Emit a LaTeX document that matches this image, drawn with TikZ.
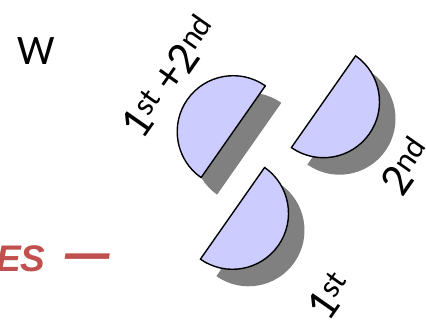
\documentclass[tikz,border=0pt]{standalone}
\usepackage{fontspec}
\setmainfont{Carlito}
\newfontfamily\esfont{Liberation Sans}
\usetikzlibrary{positioning}
\definecolor{halffill}{HTML}{CCCCFF}
\definecolor{halfshadow}{HTML}{808080}
\definecolor{esred}{HTML}{C0504D}

\begin{document}
\begin{tikzpicture}[x=1pt, y=1pt,
    half/.style={fill=halffill, draw=black, line width=1.4pt, line join=round},
    shade/.style={fill=halfshadow},
    lbl/.style={font=\fontsize{46}{46}\selectfont, rotate=55, anchor=base west, inner sep=0pt}]
    \useasboundingbox (0,0) rectangle (426,-321);
    \clip (0,0) rectangle (426,-321);

    % centres of the half discs
    \coordinate (both) at (233.2,-131.7);
    \coordinate (second) at (323.5,-101.7);
    \coordinate (first) at (232.5,-213.3);

    % shadows
    \foreach \c/\s/\e in {both/55/235, second/55/-125, first/55/-125} {
        \fill[shade] ([shift={(16,-17)}]\c) ++(\s:56) arc[start angle=\s, end angle=\e, radius=56] -- cycle;
    }
    % half discs
    \foreach \c/\s/\e in {both/55/235, second/55/-125, first/55/-125} {
        \draw[half] (\c) ++(\s:56) arc[start angle=\s, end angle=\e, radius=56] -- cycle;
    }

    % labels
    \node[inner sep=0pt, font=\fontsize{42}{42}\selectfont] (w) at (36.5,-51) {W};
    \node[lbl] (bothlbl) at (142,-142) {1\textsuperscript{st} +2\textsuperscript{nd}};
    \node[lbl] (secondlbl) at (402,-199) {2\textsuperscript{nd}};
    \node[lbl] (firstlbl) at (328,-324) {1\textsuperscript{st}};
    \node[inner sep=0pt, anchor=base east, text=esred, font=\esfont\fontsize{37}{37}\selectfont\bfseries\itshape] (es) at (110,-271.7) {ES\hspace{20pt}\scalebox{1.2}[1.5]{—}};
\end{tikzpicture}
\end{document}
